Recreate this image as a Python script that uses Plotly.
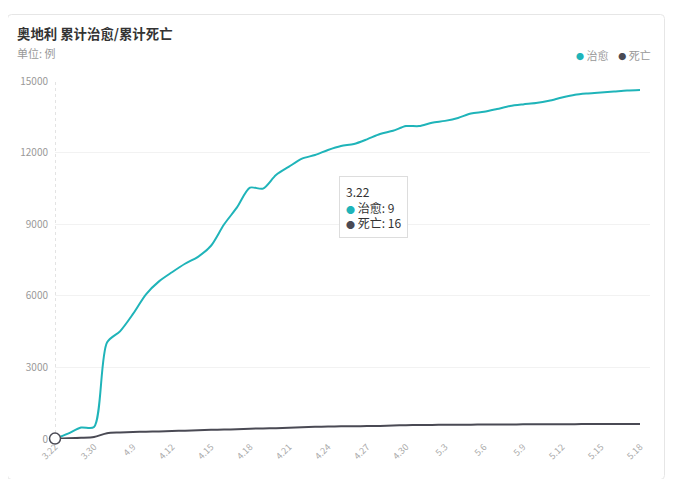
import plotly.graph_objects as go

dates = ["3.22", "3.25", "3.28", "3.30", "4.7", "4.8", "4.9", "4.10", "4.11", "4.12",
         "4.13", "4.14", "4.15", "4.16", "4.17", "4.18", "4.19", "4.20", "4.21", "4.22",
         "4.23", "4.24", "4.25", "4.26", "4.27", "4.28", "4.29", "4.30", "5.1", "5.2",
         "5.3", "5.4", "5.5", "5.6", "5.7", "5.8", "5.9", "5.10", "5.11", "5.12",
         "5.13", "5.14", "5.15", "5.16", "5.17", "5.18"]

recovered = [9, 225, 479, 500, 4046, 4512, 5240, 6064, 6604, 6987,
             7343, 7633, 8098, 8986, 9704, 10530, 10490, 11060, 11410, 11745,
             11900, 12110, 12275, 12360, 12555, 12780, 12915, 13110, 13110, 13250,
             13330, 13450, 13640, 13710, 13825, 13950, 14020, 14075, 14170, 14310,
             14425, 14480, 14520, 14560, 14600, 14620]

deaths = [16, 28, 49, 86, 243, 273, 295, 305, 319, 337,
          350, 368, 384, 393, 410, 431, 443, 452, 470, 491,
          510, 522, 530, 536, 542, 549, 569, 580, 584, 589,
          596, 598, 600, 606, 608, 609, 614, 615, 618, 620,
          623, 624, 626, 628, 629, 629]

tick_labels = ["3.22", "3.30", "4.9", "4.12", "4.15", "4.18", "4.21", "4.24", "4.27",
               "4.30", "5.3", "5.6", "5.9", "5.12", "5.15", "5.18"]
y_ticks = [0, 3000, 6000, 9000, 12000, 15000]

series_names = ["治愈", "死亡"]
TEAL = "#1fb4b9"
DARK = "#4a4a54"

# page body adds an 8px margin; work in reference-window pixels and offset
OFF = 8
W, H = 673 - 2 * OFF, 487 - 2 * OFF
PL, PT, PR, PB = 55, 81, 650, 439  # plot area in reference pixels
L, T = PL - OFF, PT - OFF
R, B = W - (PR - OFF), H - (PB - OFF)
pw, ph = PR - PL, PB - PT


def px(x):
    return (x - PL) / pw


def py(y):
    return (PB - y) / ph


fig = go.Figure()
fig.add_trace(go.Scatter(x=dates, y=recovered, name=series_names[0], mode="lines",
                         line=dict(color=TEAL, width=2, shape="spline", smoothing=0.8),
                         showlegend=False, hoverinfo="skip"))
fig.add_trace(go.Scatter(x=dates, y=deaths, name=series_names[1], mode="lines",
                         line=dict(color=DARK, width=2, shape="spline", smoothing=0.8),
                         showlegend=False, hoverinfo="skip"))

# hover crosshair at first category (category index 0)
fig.add_shape(type="line", xref="x", yref="paper", x0=0, x1=0, y0=0, y1=1,
              line=dict(color="#c8c8c8", width=1, dash="dot"), layer="below")
fig.add_trace(go.Scatter(x=[dates[0]], y=[deaths[0]], mode="markers", showlegend=False,
                         hoverinfo="skip", cliponaxis=False,
                         marker=dict(size=11, color="white", line=dict(color=DARK, width=1.5))))

# card
x0, x1 = px(7.5), px(664.5)
y0, y1 = py(479.5), py(14.5)
rx, ry = 4 / pw, 4 / ph
path = (f"M {x0+rx},{y0} L {x1-rx},{y0} Q {x1},{y0} {x1},{y0+ry} L {x1},{y1-ry} "
        f"Q {x1},{y1} {x1-rx},{y1} L {x0+rx},{y1} Q {x0},{y1} {x0},{y1-ry} "
        f"L {x0},{y0+ry} Q {x0},{y0} {x0+rx},{y0} Z")
fig.add_shape(type="path", path=path, xref="paper", yref="paper",
              line=dict(color="#e6e6e6", width=1), fillcolor="rgba(0,0,0,0)", layer="below")

FONT = "Noto Sans CJK SC"
fig.add_annotation(text="<b>奥地利 累计治愈/累计死亡</b>", xref="paper", yref="paper",
                   x=px(15), y=py(33), xanchor="left", yanchor="middle", showarrow=False,
                   font=dict(size=13.4, color="#333333", family=FONT))
fig.add_annotation(text="单位: 例", xref="paper", yref="paper",
                   x=px(15), y=py(53), xanchor="left", yanchor="middle", showarrow=False,
                   font=dict(size=11, color="#999999", family=FONT))
legend_text = (f"<span style='color:{TEAL};font-size:8px'>●</span> {series_names[0]}"
               f"    <span style='color:{DARK};font-size:8px'>●</span> {series_names[1]}")
fig.add_annotation(text=legend_text, xref="paper", yref="paper",
                   x=px(653), y=py(55), xanchor="right", yanchor="middle", showarrow=False,
                   font=dict(size=11, color="#999999", family=FONT))

tip = (f"{dates[0]}<br><span style='color:{TEAL};font-size:9px'>●</span> {series_names[0]}: {recovered[0]}"
       f"<br><span style='color:{DARK};font-size:9px'>●</span> {series_names[1]}: {deaths[0]}")
fig.add_annotation(text=tip, xref="paper", yref="paper", x=px(339), y=py(176),
                   xanchor="left", yanchor="top", showarrow=False, align="left",
                   bgcolor="white", bordercolor="#dddddd", borderwidth=1, borderpad=6,
                   font=dict(size=12, color="#333333", family=FONT))

fig.update_layout(
    width=W, height=H,
    margin=dict(l=L, r=R, t=T, b=B, autoexpand=False),
    paper_bgcolor="white", plot_bgcolor="white",
    font=dict(family=FONT),
    showlegend=False,
    xaxis=dict(type="category", range=[0, 45.77], tickmode="array",
               tickvals=[dates[i] for i in range(0, len(dates), 3)], ticktext=tick_labels,
               tickangle=-45, tickfont=dict(size=9, color="#aaaaaa"),
               showgrid=False, zeroline=False, showline=False, ticks=""),
    yaxis=dict(range=[0, 15000], tickmode="array", tickvals=y_ticks,
               ticktext=[str(v) for v in y_ticks],
               tickfont=dict(size=10, color="#999999"), showgrid=True,
               gridcolor="#f2f2f2", gridwidth=1, zeroline=False, showline=False,
               ticks="", ticklabelstandoff=6),
)

fig.write_html("out.html")
